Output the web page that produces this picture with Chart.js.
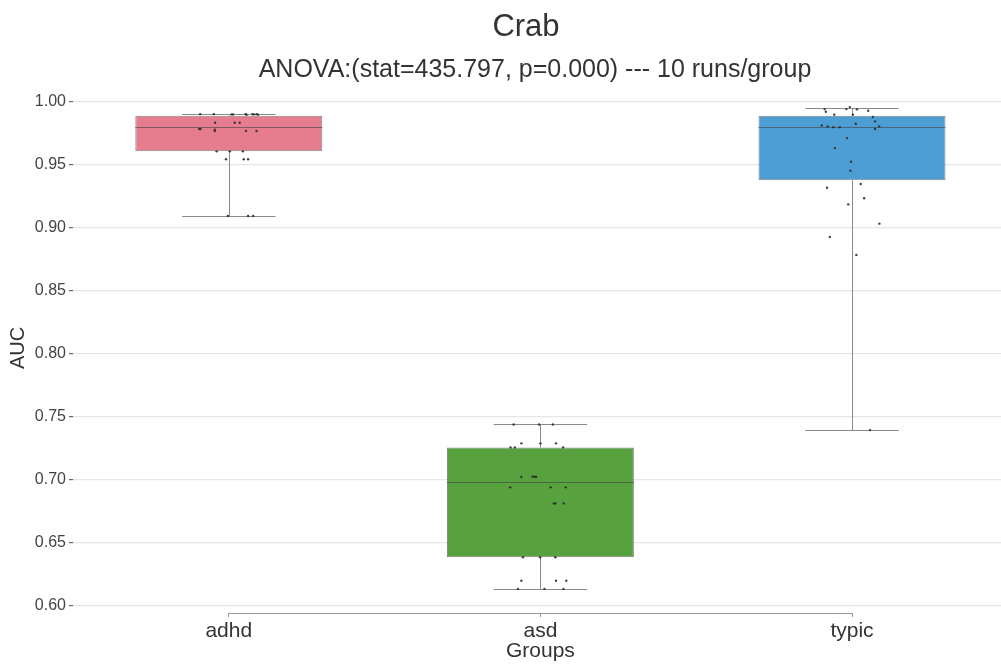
<!DOCTYPE html>
<html>
<head>
<meta charset="utf-8">
<script src="https://cdn.jsdelivr.net/npm/chart.js@4.4.0/dist/chart.umd.min.js"></script>
<style>
html,body{margin:0;padding:0;background:#ffffff;overflow:hidden;}
canvas{display:block;}
</style>
</head>
<body>
<canvas id="c" width="1009" height="665"></canvas>
<script>
// ---------- data ----------
const titleText = 'Crab';
const subtitleText = 'ANOVA:(stat=435.797, p=0.000) --- 10 runs/group';
const categories = ['adhd', 'asd', 'typic'];
const yTickValues = [0.60, 0.65, 0.70, 0.75, 0.80, 0.85, 0.90, 0.95, 1.00];

const boxQ1 = [0.9604, 0.6386, 0.9374];
const boxMedian = [0.9800, 0.6982, 0.9800];
const boxQ3 = [0.9887, 0.7257, 0.9887];
const whiskerLow = [0.9091, 0.6135, 0.7394];
const whiskerHigh = [0.9899, 0.7439, 0.9945];

const adhdValues = [0.9899,0.9899,0.9897,0.9897,0.9899,0.9895,0.9899,0.9897,0.9899,0.9895,
  0.9831,0.9831,0.9831,0.9781,0.9781,0.9776,0.9765,0.9765,0.9765,
  0.9604,0.9604,0.9604,0.9541,0.9541,0.9541,0.9091,0.9091,0.9091];
const adhdJitter = [-0.092,-0.048,0.009,0.014,0.054,0.057,0.076,0.080,0.089,0.094,
  -0.044,0.019,0.035,-0.095,-0.091,-0.045,-0.045,0.055,0.089,
  -0.039,0.003,0.045,-0.009,0.048,0.062,-0.003,0.062,0.078];

const asdValues = [0.7439,0.7439,0.7439,0.7289,0.7289,0.7289,0.7257,0.7257,0.7257,
  0.7022,0.7024,0.7024,0.7024,0.6940,0.6940,0.6940,0.6813,0.6813,0.6813,
  0.6386,0.6386,0.6386,0.6200,0.6200,0.6200,0.6135,0.6135,0.6135];
const asdJitter = [-0.086,-0.004,0.040,-0.061,0.000,0.050,-0.096,-0.082,0.073,
  -0.061,-0.025,-0.019,-0.014,-0.097,0.033,0.081,0.043,0.048,0.075,
  -0.056,-0.001,0.048,-0.061,0.050,0.083,-0.072,0.013,0.074];

const typicValues = [0.9939,0.9918,0.9939,0.9955,0.9937,0.9926,0.9895,0.9895,0.9876,0.9842,
  0.9823,0.9810,0.9802,0.9796,0.9796,0.9802,0.9781,0.9709,0.9630,0.9522,
  0.9451,0.9345,0.9316,0.9232,0.9184,0.9031,0.8925,0.8783,0.7394];
const typicJitter = [-0.088,-0.084,-0.018,-0.007,0.016,0.052,-0.057,0.003,0.067,0.074,
  0.012,-0.097,-0.078,-0.060,-0.039,0.087,0.074,-0.016,-0.055,-0.003,
  -0.005,0.028,-0.080,0.039,-0.012,0.088,-0.071,0.014,0.058];

// ---------- styles ----------
const FONT = '"Liberation Sans", Arial, Helvetica, sans-serif';
const boxColors = ['#E57D8E', '#57A13F', '#4E9ED6'];
const BOX_HALF = 0.3;   // category units
const CAP_HALF = 0.15;  // category units

const groupValues = [adhdValues, asdValues, typicValues];
const groupJitter = [adhdJitter, asdJitter, typicJitter];
const stripPoints = [];
groupValues.forEach((vals, g) => {
  vals.forEach((v, k) => stripPoints.push({x: g + groupJitter[g][k], y: v}));
});
const boxData = categories.map((c, i) => ({x: i, y: [boxQ1[i], boxQ3[i]]}));

const boxPlugin = {
  id: 'boxExtras',
  afterDatasetDraw(chart, args) {
    if (args.index !== 1) return;
    const ctx = chart.ctx, xs = chart.scales.x, ys = chart.scales.y;
    ctx.save();
    ctx.lineWidth = 1;
    categories.forEach((c, i) => {
      const xc = Math.round(xs.getPixelForValue(i)) + 0.5;
      ctx.strokeStyle = '#8a8a8a';
      ctx.beginPath();
      ctx.moveTo(xc, ys.getPixelForValue(whiskerLow[i]));
      ctx.lineTo(xc, ys.getPixelForValue(boxQ1[i]));
      ctx.moveTo(xc, ys.getPixelForValue(boxQ3[i]));
      ctx.lineTo(xc, ys.getPixelForValue(whiskerHigh[i]));
      const yl = Math.round(ys.getPixelForValue(whiskerLow[i])) + 0.5;
      const yh = Math.round(ys.getPixelForValue(whiskerHigh[i])) + 0.5;
      ctx.moveTo(xs.getPixelForValue(i - CAP_HALF), yl);
      ctx.lineTo(xs.getPixelForValue(i + CAP_HALF), yl);
      ctx.moveTo(xs.getPixelForValue(i - CAP_HALF), yh);
      ctx.lineTo(xs.getPixelForValue(i + CAP_HALF), yh);
      ctx.stroke();
      ctx.strokeStyle = 'rgba(70,70,70,0.65)';
      ctx.beginPath();
      const ym = Math.round(ys.getPixelForValue(boxMedian[i])) + 0.5;
      ctx.moveTo(xs.getPixelForValue(i - BOX_HALF), ym);
      ctx.lineTo(xs.getPixelForValue(i + BOX_HALF), ym);
      ctx.stroke();
    });
    ctx.restore();
  },
  afterDraw(chart) {
    const ctx = chart.ctx, xs = chart.scales.x, area = chart.chartArea;
    ctx.save();
    // offset bottom spine (first to last category)
    ctx.strokeStyle = '#9a9a9a';
    ctx.lineWidth = 1.2;
    ctx.beginPath();
    const yb = Math.round(area.bottom) + 0.5;
    ctx.moveTo(xs.getPixelForValue(0), yb);
    ctx.lineTo(xs.getPixelForValue(categories.length - 1), yb);
    ctx.stroke();
    // titles
    ctx.fillStyle = '#333333';
    ctx.textAlign = 'center';
    ctx.textBaseline = 'alphabetic';
    ctx.font = '31px ' + FONT;
    ctx.fillText(titleText, 526, 36);
    ctx.font = '25px ' + FONT;
    ctx.fillText(subtitleText, 535, 77);
    ctx.restore();
  }
};

new Chart(document.getElementById('c'), {
  type: 'scatter',
  data: {
    datasets: [
      {
        type: 'scatter',
        data: stripPoints,
        pointRadius: 1.2,
        pointHoverRadius: 1.2,
        backgroundColor: 'rgba(45,45,45,0.9)',
        borderWidth: 0,
        order: 0
      },
      {
        type: 'bar',
        data: boxData,
        backgroundColor: boxColors,
        borderColor: 'rgba(90,90,90,0.75)',
        borderWidth: 1,
        borderSkipped: false,
        grouped: false,
        barPercentage: 0.75,
        categoryPercentage: 0.8,
        order: 1
      }
    ]
  },
  options: {
    responsive: false,
    animation: false,
    devicePixelRatio: 1,
    layout: {padding: {top: 83, right: 0, bottom: 0, left: 0}},
    plugins: {
      legend: {display: false},
      tooltip: {enabled: false},
      title: {display: false}
    },
    scales: {
      x: {
        type: 'linear',
        min: -0.5,
        max: 2.5,
        offset: false,
        afterBuildTicks: s => { s.ticks = categories.map((c, i) => ({value: i})); },
        afterFit: s => { s.height = 52; },
        ticks: {
          callback: v => categories[v],
          font: {family: FONT, size: 21},
          color: '#333333',
          padding: 2,
          maxRotation: 0,
          autoSkip: false
        },
        grid: {
          display: true,
          offset: false,
          drawOnChartArea: false,
          drawTicks: true,
          tickLength: 4,
          color: '#9a9a9a',
          tickColor: '#9a9a9a'
        },
        border: {display: false},
        title: {
          display: true,
          text: 'Groups',
          font: {family: FONT, size: 21},
          color: '#333333',
          padding: {top: 0, bottom: 1}
        }
      },
      y: {
        type: 'linear',
        min: 0.5944,
        max: 1.0146,
        afterBuildTicks: s => { s.ticks = yTickValues.map(v => ({value: v})); },
        afterFit: s => { s.width = 73; },
        ticks: {
          callback: v => v.toFixed(2),
          font: {family: FONT, size: 16},
          color: '#444444',
          padding: 3
        },
        grid: {
          color: '#e6e6e6',
          lineWidth: 1.2,
          drawTicks: true,
          tickLength: 4,
          tickColor: '#666666'
        },
        border: {display: false},
        title: {
          display: true,
          text: 'AUC',
          font: {family: FONT, size: 20},
          color: '#333333',
          padding: {top: 6, bottom: 0}
        }
      }
    }
  },
  plugins: [boxPlugin]
});
</script>
</body>
</html>
